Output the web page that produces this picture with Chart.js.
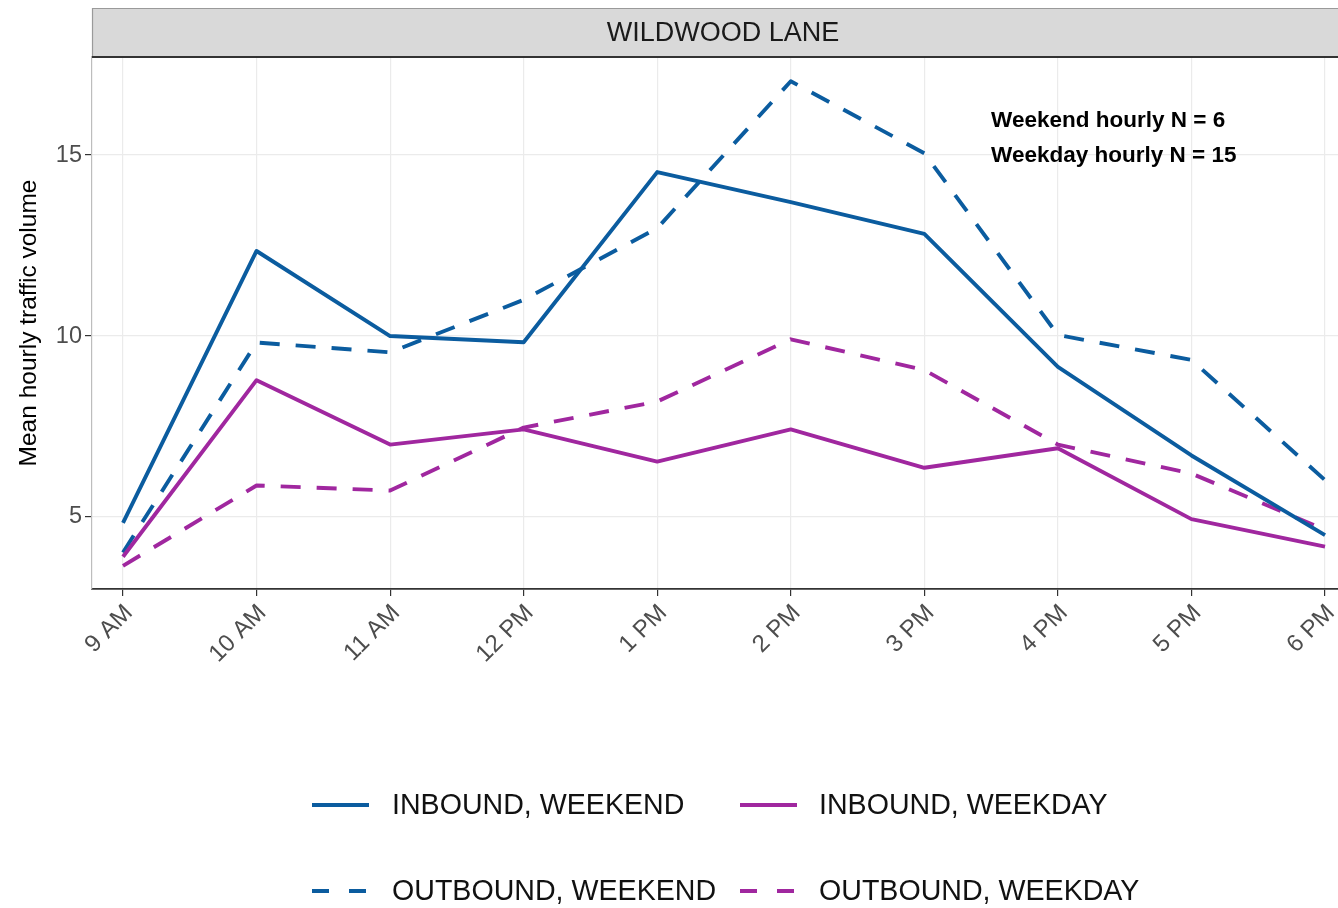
<!DOCTYPE html>
<html>
<head>
<meta charset="utf-8">
<script src="https://cdn.jsdelivr.net/npm/chart.js@4.4.1/dist/chart.umd.min.js"></script>
<style>
  html, body { margin: 0; padding: 0; background: #ffffff; overflow: hidden; }
  #wrap { width: 1356px; height: 908px; }
</style>
</head>
<body>
<div id="wrap"><canvas id="c" width="1356" height="908"></canvas></div>
<script>
// ---- data ----
const categories = ['9 AM', '10 AM', '11 AM', '12 PM', '1 PM', '2 PM', '3 PM', '4 PM', '5 PM', '6 PM'];
const inboundWeekend  = [4.84, 12.35, 10.0, 9.83, 14.53, 13.7, 12.82, 9.15, 6.7, 4.5];
const inboundWeekday  = [3.9, 8.78, 7.0, 7.42, 6.53, 7.42, 6.36, 6.9, 4.94, 4.18];
const outboundWeekend = [4.02, 9.82, 9.55, 11.0, 12.98, 17.04, 15.05, 10.03, 9.34, 6.02];
const outboundWeekday = [3.65, 5.87, 5.73, 7.47, 8.19, 9.91, 9.06, 7.0, 6.2, 4.65];
const yTickValues = [5, 10, 15];
const seriesLabels = ['INBOUND, WEEKEND', 'INBOUND, WEEKDAY', 'OUTBOUND, WEEKEND', 'OUTBOUND, WEEKDAY'];
const panelTitle = 'WILDWOOD LANE';
const yTitle = 'Mean hourly traffic volume';
const annotationLines = ['Weekend hourly N = 6', 'Weekday hourly N = 15'];

const BLUE = '#0b5c9f';
const PURPLE = '#a0279f';
const FONT = '"Liberation Sans", Arial, sans-serif';

function pts(arr) { return arr.map((v, i) => ({ x: i, y: v })); }

const datasets = [
  { label: seriesLabels[0], data: pts(inboundWeekend), borderColor: BLUE, borderDash: [] },
  { label: seriesLabels[1], data: pts(inboundWeekday), borderColor: PURPLE, borderDash: [] },
  { label: seriesLabels[2], data: pts(outboundWeekend), borderColor: BLUE, borderDash: [20, 16] },
  { label: seriesLabels[3], data: pts(outboundWeekday), borderColor: PURPLE, borderDash: [20, 16] }
].map(d => Object.assign(d, {
  borderWidth: 3.9, pointRadius: 0, fill: false, tension: 0,
  borderCapStyle: 'butt', borderJoinStyle: 'round'
}));

const decor = {
  id: 'decor',
  beforeDraw(chart) {
    const { ctx, chartArea } = chart;
    ctx.save();
    // facet strip
    const top = 8, bottom = chartArea.top;
    ctx.fillStyle = '#d9d9d9';
    ctx.fillRect(chartArea.left, top, chart.width - chartArea.left, bottom - top);
    ctx.strokeStyle = '#9a9a9a';
    ctx.lineWidth = 1.2;
    ctx.beginPath();
    ctx.moveTo(chartArea.left + 0.5, bottom);
    ctx.lineTo(chartArea.left + 0.5, top + 0.5);
    ctx.lineTo(chart.width, top + 0.5);
    ctx.stroke();
    ctx.fillStyle = '#1a1a1a';
    ctx.font = '27px ' + FONT;
    ctx.textAlign = 'center';
    ctx.textBaseline = 'middle';
    ctx.fillText(panelTitle, (chartArea.left + chartArea.right) / 2 - 1, (top + bottom) / 2 + 1);
    ctx.restore();
  },
  afterDraw(chart) {
    const { ctx, chartArea, scales } = chart;
    ctx.save();
    // strip bottom / panel top border
    ctx.strokeStyle = '#333333';
    ctx.lineWidth = 1.8;
    ctx.beginPath();
    ctx.moveTo(chartArea.left, chartArea.top);
    ctx.lineTo(chart.width, chartArea.top);
    ctx.stroke();
    // annotation
    ctx.fillStyle = '#000000';
    ctx.font = 'bold 22.5px ' + FONT;
    ctx.textAlign = 'left';
    ctx.textBaseline = 'middle';
    const ax = scales.x.getPixelForValue(6.5);
    ctx.fillText(annotationLines[0], ax, scales.y.getPixelForValue(15.94));
    ctx.fillText(annotationLines[1], ax, scales.y.getPixelForValue(14.97));
    // legend
    const sampleX = [312, 740], textX = [392, 819], rowY = [805, 891];
    chart.data.datasets.forEach((ds, i) => {
      const col = i % 2, row = Math.floor(i / 2);
      const y = rowY[row];
      ctx.strokeStyle = ds.borderColor;
      ctx.lineWidth = 3.9;
      ctx.setLineDash(ds.borderDash.length ? [17, 20] : []);
      ctx.beginPath();
      ctx.moveTo(sampleX[col], y);
      ctx.lineTo(sampleX[col] + 57, y);
      ctx.stroke();
      ctx.setLineDash([]);
      ctx.fillStyle = '#111111';
      ctx.font = '28.6px ' + FONT;
      ctx.fillText(ds.label, textX[col], y + 1);
    });
    ctx.restore();
  }
};

new Chart(document.getElementById('c'), {
  type: 'line',
  data: { datasets },
  plugins: [decor],
  options: {
    responsive: false,
    animation: false,
    events: [],
    layout: { padding: { top: 57, right: 0, bottom: 0, left: 0 } },
    plugins: { legend: { display: false }, tooltip: { enabled: false }, title: { display: false } },
    scales: {
      x: {
        type: 'linear',
        min: -0.232, max: 9.232,
        afterBuildTicks: s => { s.ticks = categories.map((_, i) => ({ value: i })); },
        afterFit: s => { s.height = 908 - 589; s.paddingLeft = 0; s.paddingRight = 0; },
        ticks: {
          autoSkip: false, minRotation: 45, maxRotation: 45,
          color: '#4d4d4d', font: { family: FONT, size: 24 }, padding: 3, labelOffset: 6,
          callback: v => categories[v]
        },
        grid: { color: '#ebebeb', lineWidth: 1.2, tickColor: '#333333', tickLength: 7, tickWidth: 1.2 },
        border: { display: true, color: '#333333', width: 1.8 }
      },
      y: {
        type: 'linear',
        min: 3.01, max: 17.71,
        afterBuildTicks: s => { s.ticks = yTickValues.map(v => ({ value: v })); },
        afterFit: s => { s.width = 92; },
        ticks: { color: '#4d4d4d', font: { family: FONT, size: 23.5 }, padding: 3 },
        grid: { color: '#ebebeb', lineWidth: 1.2, tickColor: '#333333', tickLength: 7, tickWidth: 1.2 },
        border: { display: true, color: '#bdbdbd', width: 1.2 },
        title: { display: true, text: yTitle, color: '#000000', font: { family: FONT, size: 24.5 }, padding: { top: 15, bottom: 0 } }
      }
    }
  }
});
</script>
</body>
</html>
